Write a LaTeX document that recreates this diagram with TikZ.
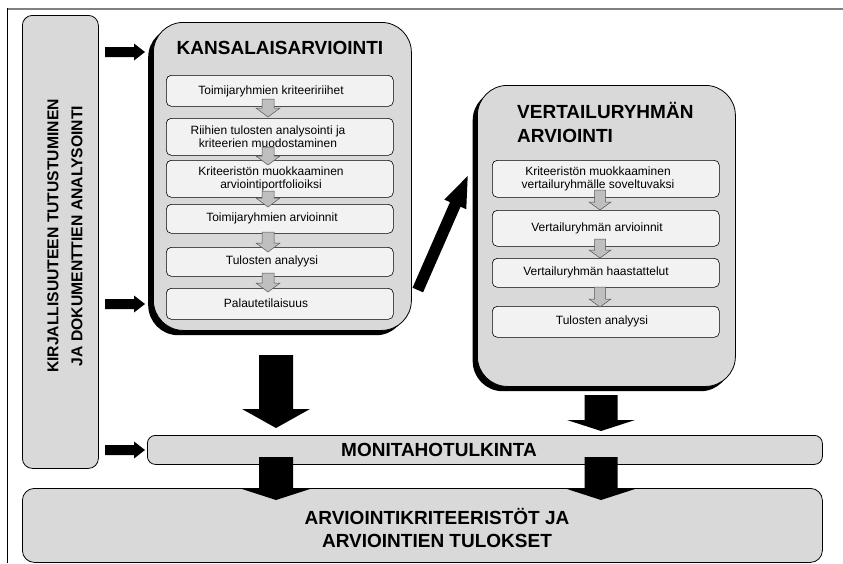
\documentclass[tikz,border=0pt]{standalone}
\usepackage{fontspec}
\setmainfont{Liberation Sans}
\usetikzlibrary{calc}
\definecolor{boxgray}{HTML}{D9D9D9}
\definecolor{innerfill}{HTML}{F2F2F2}
\definecolor{smallarr}{HTML}{BFBFBF}
\definecolor{smalledge}{HTML}{555555}
\definecolor{framegray}{HTML}{808080}
\newcommand\myblockarrow[6]{% #1 style, #2 from, #3 to, #4 shaft half width, #5 head half width, #6 head length
  \coordinate (ba-h) at ($(#3)!#6!(#2)$);
  \filldraw[#1] ($(#2)!#4!90:(#3)$) -- ($(ba-h)!#4!90:(#3)$) -- ($(ba-h)!#5!90:(#3)$) -- (#3)
    -- ($(ba-h)!#5!-90:(#3)$) -- ($(ba-h)!#4!-90:(#3)$) -- ($(#2)!#4!-90:(#3)$) -- cycle;
}
\tikzset{
  bigbox/.style={draw=black, line width=0.8pt, fill=boxgray, rounded corners=30pt, anchor=north west, inner sep=0pt},
  shadowbox/.style={fill=black, draw=none, rounded corners=30pt, anchor=north west, inner sep=0pt},
  inbox/.style={draw=black, line width=0.6pt, fill=innerfill, rounded corners=5pt, anchor=north west, inner sep=0pt},
  flatbox/.style={draw=black, line width=0.8pt, fill=boxgray, anchor=north west, inner sep=0pt},
  smalltext/.style={font=\fontsize{12}{13}\selectfont, align=center, inner sep=0pt},
  titletext/.style={font=\fontsize{19}{24}\selectfont\bfseries, inner sep=0pt},
  blackarrow/.style={fill=black, draw=none},
  grayarrow/.style={fill=smallarr, draw=smalledge, line width=0.5pt},
}
\begin{document}
\begin{tikzpicture}[x=1pt, y=-1pt]
\useasboundingbox (0,0) rectangle (843,563);
\fill[white] (0,0) rectangle (843,563);
% frame
\draw[framegray, line width=2pt] (7,8.5) -- (843,8.5);
\draw[black, line width=0.8pt] (7,8) -- (7,563);

% left box
\node[flatbox, rounded corners=10pt, minimum width=76pt, minimum height=453pt] (lit) at (22,15) {};
\node[rotate=90, font=\fontsize{15.7}{24}\selectfont\bfseries, align=center, inner sep=0pt] (litt) at (65,236)
  {KIRJALLISUUTEEN TUTUSTUMINEN\\JA DOKUMENTTIEN ANALYSOINTI};

% Kansalaisarviointi
\node[shadowbox, minimum width=258pt, minimum height=308pt] (kansshadow) at (148,27) {};
\node[bigbox, minimum width=258pt, minimum height=308pt] (kans) at (153,22) {};
\node[titletext] (kanst) at (280,48) {KANSALAISARVIOINTI};

\node[inbox, minimum width=227pt, minimum height=31pt] (k1) at (166,75) {};
\node[inbox, minimum width=227pt, minimum height=37pt] (k2) at (166,118) {};
\node[inbox, minimum width=227pt, minimum height=37pt] (k3) at (166,160) {};
\node[inbox, minimum width=227pt, minimum height=29pt] (k4) at (166,204) {};
\node[inbox, minimum width=227pt, minimum height=29pt] (k5) at (166,247) {};
\node[inbox, minimum width=227pt, minimum height=31pt] (k6) at (166,288) {};
\node[smalltext] (k1t) at (271,91) {Toimijaryhmien kriteeririihet};
\node[smalltext] (k2t) at (268,136.5) {Riihien tulosten analysointi ja\\kriteerien muodostaminen};
\node[smalltext] (k3t) at (271,178.5) {Kriteeristön muokkaaminen\\arviointiportfolioiksi};
\node[smalltext] (k4t) at (272,218.5) {Toimijaryhmien arvioinnit};
\node[smalltext] (k5t) at (272,261.5) {Tulosten analyysi};
\node[smalltext] (k6t) at (266,303.5) {Palautetilaisuus};

\coordinate (ka1s) at (268,99);  \coordinate (ka1e) at (268,117);
\coordinate (ka2s) at (268,147); \coordinate (ka2e) at (268,165);
\coordinate (ka3s) at (268,191); \coordinate (ka3e) at (268,207);
\coordinate (ka4s) at (268,232); \coordinate (ka4e) at (268,252);
\coordinate (ka5s) at (268,273); \coordinate (ka5e) at (268,292);
\myblockarrow{grayarrow}{ka1s}{ka1e}{6pt}{12pt}{9pt}
\myblockarrow{grayarrow}{ka2s}{ka2e}{6pt}{12pt}{9pt}
\myblockarrow{grayarrow}{ka3s}{ka3e}{6pt}{12pt}{9pt}
\myblockarrow{grayarrow}{ka4s}{ka4e}{6pt}{12pt}{9pt}
\myblockarrow{grayarrow}{ka5s}{ka5e}{6pt}{12pt}{9pt}

% Vertailuryhman arviointi
\node[shadowbox, minimum width=258pt, minimum height=301pt] (vertshadow) at (472.5,90) {};
\node[bigbox, minimum width=258pt, minimum height=301pt] (vert) at (477,85) {};
\node[titletext, align=left, anchor=west] (vertt) at (517,122.5) {VERTAILURYHMÄN\\ARVIOINTI};

\node[inbox, minimum width=227pt, minimum height=37pt] (v1) at (492,160) {};
\node[inbox, minimum width=227pt, minimum height=36pt] (v2) at (492,210) {};
\node[inbox, minimum width=227pt, minimum height=29pt] (v3) at (492,258) {};
\node[inbox, minimum width=227pt, minimum height=31pt] (v4) at (492,306) {};
\node[smalltext] (v1t) at (598,178.5) {Kriteeristön muokkaaminen\\vertailuryhmälle soveltuvaksi};
\node[smalltext] (v2t) at (597,228) {Vertailuryhmän arvioinnit};
\node[smalltext] (v3t) at (596,272.5) {Vertailuryhmän haastattelut};
\node[smalltext] (v4t) at (602,321.5) {Tulosten analyysi};

\coordinate (va1s) at (600,190); \coordinate (va1e) at (600,210);
\coordinate (va2s) at (600,239); \coordinate (va2e) at (600,258);
\coordinate (va3s) at (600,287); \coordinate (va3e) at (600,307);
\myblockarrow{grayarrow}{va1s}{va1e}{5.5pt}{11pt}{8pt}
\myblockarrow{grayarrow}{va2s}{va2e}{5.5pt}{11pt}{8pt}
\myblockarrow{grayarrow}{va3s}{va3e}{5.5pt}{11pt}{8pt}

% Monitahotulkinta and final box
\node[flatbox, rounded corners=8pt, minimum width=675pt, minimum height=29pt] (moni) at (147,435) {};
\node[titletext] (monit) at (439,450) {MONITAHOTULKINTA};
\node[flatbox, rounded corners=12pt, minimum width=800pt, minimum height=74pt] (final) at (22,488) {};
\node[titletext, align=center, font=\fontsize{19}{23}\selectfont\bfseries] (finalt) at (437,528)
  {ARVIOINTIKRITEERISTÖT JA\\ARVIOINTIEN TULOKSET};

% arrows from the left box
\coordinate (la1s) at (105,52);  \coordinate (la1e) at (145,52);
\coordinate (la2s) at (105,304); \coordinate (la2e) at (145,304);
\coordinate (la3s) at (105,450); \coordinate (la3e) at (145,450);
\myblockarrow{blackarrow}{la1s}{la1e}{5pt}{8.5pt}{11pt}
\myblockarrow{blackarrow}{la2s}{la2e}{5pt}{8.5pt}{11pt}
\myblockarrow{blackarrow}{la3s}{la3e}{5pt}{8.5pt}{11pt}

% diagonal arrow
\coordinate (dgs) at (417.8,290); \coordinate (dge) at (467.7,176);
\myblockarrow{blackarrow}{dgs}{dge}{5.75pt}{12pt}{31pt}

% big down arrows
\coordinate (b1s) at (276,355); \coordinate (b1e) at (276,428);
\coordinate (b2s) at (601,395); \coordinate (b2e) at (601,431);
\coordinate (b3s) at (276,457); \coordinate (b3e) at (276,500);
\coordinate (b4s) at (601,457); \coordinate (b4e) at (601,500);
\myblockarrow{blackarrow}{b1s}{b1e}{17pt}{34pt}{19pt}
\myblockarrow{blackarrow}{b2s}{b2e}{16.5pt}{34pt}{11pt}
\myblockarrow{blackarrow}{b3s}{b3e}{17pt}{34pt}{11pt}
\myblockarrow{blackarrow}{b4s}{b4e}{16.5pt}{34pt}{11pt}
\end{tikzpicture}
\end{document}
